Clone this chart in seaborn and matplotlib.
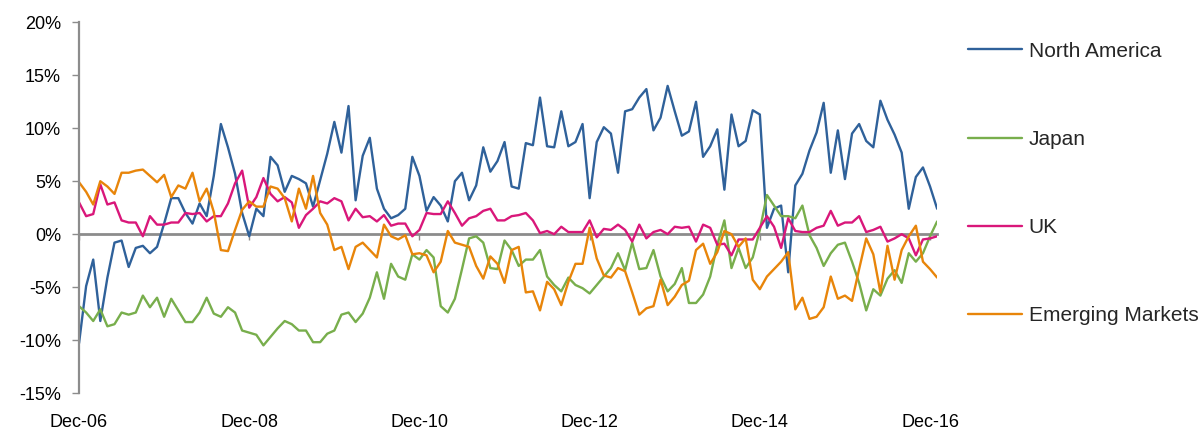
import numpy as np
import pandas as pd
import matplotlib
matplotlib.use("Agg")
import matplotlib.pyplot as plt
import seaborn as sns

# Monthly relative returns (%), Dec-06 to Jan-17
north_america = [
    -10.3, -4.9, -2.4, -8.2, -4.1, -0.8, -0.6, -3.1, -1.3, -1.1,
    -1.8, -1.2, 1.0, 3.4, 3.4, 2.0, 1.0, 2.9, 1.7, 5.5,
    10.4, 8.2, 5.7, 2.0, -0.2, 2.4, 1.7, 7.3, 6.5, 4.0,
    5.5, 5.2, 4.8, 2.6, 5.1, 7.6, 10.6, 7.7, 12.1, 3.2,
    7.4, 9.1, 4.3, 2.4, 1.5, 1.8, 2.4, 7.3, 5.5, 2.2,
    3.5, 2.7, 1.2, 5.0, 5.8, 3.2, 4.6, 8.2, 5.9, 6.9,
    8.7, 4.5, 4.3, 8.6, 8.4, 12.9, 8.3, 8.2, 11.6, 8.3,
    8.7, 10.4, 3.4, 8.7, 10.1, 9.5, 5.8, 11.6, 11.8, 12.9,
    13.7, 9.8, 11.0, 14.0, 11.6, 9.3, 9.7, 12.5, 7.3, 8.3,
    9.9, 4.2, 11.3, 8.3, 8.8, 11.7, 11.3, 0.6, 2.4, 2.7,
    -3.6, 4.6, 5.7, 7.9, 9.6, 12.4, 5.8, 9.8, 5.2, 9.5,
    10.4, 8.8, 8.2, 12.6, 10.8, 9.4, 7.7, 2.4, 5.4, 6.3,
    4.5, 2.4,
]
japan = [
    -6.8, -7.4, -8.2, -7.1, -8.7, -8.5, -7.4, -7.6, -7.4, -5.8,
    -6.9, -6.0, -7.8, -6.1, -7.2, -8.3, -8.3, -7.4, -6.0, -7.5,
    -7.8, -6.9, -7.4, -9.1, -9.3, -9.5, -10.5, -9.7, -8.9, -8.2,
    -8.5, -9.1, -9.1, -10.2, -10.2, -9.4, -9.1, -7.6, -7.4, -8.3,
    -7.5, -6.0, -3.6, -6.1, -2.8, -4.0, -4.3, -1.9, -2.4, -1.5,
    -2.2, -6.8, -7.4, -6.1, -3.3, -0.4, -0.2, -0.8, -3.2, -3.3,
    -0.6, -1.5, -3.0, -2.4, -2.4, -1.5, -4.0, -4.8, -5.4, -4.1,
    -4.8, -5.1, -5.6, -4.8, -4.0, -3.2, -1.8, -3.4, -0.8, -3.3,
    -3.2, -1.5, -4.0, -5.4, -4.7, -3.2, -6.5, -6.5, -5.7, -4.0,
    -1.0, 1.3, -3.2, -1.3, -3.2, -2.2, 0.4, 3.7, 2.7, 1.7,
    1.7, 1.5, 2.7, -0.1, -1.3, -3.0, -1.8, -1.0, -0.8, -2.6,
    -4.6, -7.2, -5.2, -5.8, -4.2, -3.4, -4.6, -1.8, -2.6, -1.8,
    -0.2, 1.2,
]
uk = [
    3.0, 1.7, 1.9, 4.7, 2.8, 3.0, 1.3, 1.1, 1.1, -0.2,
    1.7, 0.9, 0.9, 1.1, 1.1, 2.0, 1.9, 2.0, 1.2, 1.7,
    1.7, 2.9, 4.8, 6.0, 2.5, 3.5, 5.3, 3.8, 3.1, 3.5,
    3.0, 0.6, 1.8, 2.4, 3.1, 2.9, 3.4, 3.1, 1.3, 2.4,
    1.6, 1.7, 1.2, 1.8, 0.8, 1.0, 1.0, -0.2, 0.4, 2.0,
    1.9, 1.9, 3.1, 2.0, 0.8, 1.5, 1.7, 2.2, 2.4, 1.3,
    1.3, 1.7, 1.8, 2.0, 1.3, 0.1, 0.3, 0.0, 0.7, 0.2,
    0.2, 0.2, 1.3, -0.3, 0.5, 0.4, 0.9, 0.4, -0.7, 0.9,
    -0.4, 0.2, 0.4, 0.0, 0.7, 0.6, 0.7, -0.7, 0.9, 0.6,
    -1.0, -0.9, -2.0, -0.5, -0.5, -0.5, 0.6, 1.7, 0.7, -1.3,
    1.5, 0.3, 0.2, 0.2, 0.6, 0.8, 2.2, 0.8, 1.1, 1.1,
    1.7, 0.2, 0.4, 0.7, -0.7, -0.4, 0.0, -0.4, -2.0, -0.5,
    -0.4, -0.2,
]
emerging_markets = [
    4.9, 4.0, 2.8, 5.0, 4.5, 3.8, 5.8, 5.8, 6.0, 6.1,
    5.5, 4.9, 5.6, 3.5, 4.6, 4.3, 5.8, 3.1, 4.3, 2.1,
    -1.5, -1.6, 0.4, 2.3, 3.1, 2.6, 2.6, 4.5, 4.3, 3.4,
    1.2, 4.3, 2.4, 5.5, 2.0, 0.9, -1.5, -1.2, -3.3, -1.2,
    -0.8, -1.5, -2.2, 0.9, -0.2, -0.5, -0.1, -1.9, -1.8, -2.0,
    -3.6, -2.6, 0.3, -0.8, -1.0, -1.2, -3.0, -4.2, -2.1, -2.8,
    -4.6, -1.5, -1.2, -5.5, -5.4, -7.2, -4.5, -5.2, -6.7, -4.5,
    -2.8, -2.8, 0.6, -2.3, -3.9, -4.1, -3.2, -3.5, -5.5, -7.6,
    -7.0, -6.8, -4.3, -6.7, -5.9, -4.8, -4.4, -1.5, -0.9, -2.8,
    -1.7, 0.3, 0.0, -1.2, -0.4, -4.3, -5.2, -4.0, -3.3, -2.6,
    -1.7, -7.1, -6.0, -8.0, -7.8, -6.9, -4.0, -6.1, -5.8, -6.3,
    -3.3, -0.4, -1.9, -5.5, -1.1, -4.3, -1.5, -0.2, 0.8, -2.6,
    -3.3, -4.1,
]

series_names = ["North America", "Japan", "UK", "Emerging Markets"]
tick_labels = ["Dec-06", "Dec-08", "Dec-10", "Dec-12", "Dec-14", "Dec-16"]
tick_step = 24  # months between labelled ticks
y_ticks = [-15, -10, -5, 0, 5, 10, 15, 20]

palette = {
    "North America": "#2F619A",
    "Japan": "#78AE4C",
    "UK": "#D9177A",
    "Emerging Markets": "#E8850A",
}
axis_grey = "#8C8C8C"

months = np.arange(len(north_america))
wide = pd.DataFrame({
    "month": months,
    "North America": north_america,
    "Japan": japan,
    "UK": uk,
    "Emerging Markets": emerging_markets,
})
df = wide.melt(id_vars="month", var_name="series", value_name="value")

sns.set_theme(style="white")
plt.rcParams["font.family"] = ["Liberation Sans", "DejaVu Sans"]

fig = plt.figure(figsize=(12.03, 4.30), dpi=100)
ax = fig.add_axes([0.0657, 0.086, 0.7133, 0.862])

sns.lineplot(
    data=df, x="month", y="value", hue="series", hue_order=series_names,
    palette=palette, linewidth=1.7, estimator=None, sort=False,
    legend=False, ax=ax,
)

ymin, ymax = y_ticks[0], y_ticks[-1]
ax.set_xlim(months[0], months[-1])
ax.set_ylim(ymin, ymax)

# y axis: percent labels with outward grey ticks
ax.set_yticks(y_ticks)
ax.set_yticklabels([f"{v}%" for v in y_ticks])
ax.tick_params(axis="y", length=5, width=1, color=axis_grey, pad=8,
               labelsize=13, labelcolor="black", left=True)
ax.spines["left"].set_color(axis_grey)
ax.spines["left"].set_linewidth(1.6)
for side in ("top", "right", "bottom"):
    ax.spines[side].set_visible(False)

# category labels along the bottom of the plot
tick_pos = [months[0] + k * tick_step for k in range(len(tick_labels))]
ax.set_xticks(tick_pos)
ax.set_xticklabels(tick_labels)
ax.tick_params(axis="x", length=0, pad=15, labelsize=13, labelcolor="black")
ax.set_xlabel("")
ax.set_ylabel("")

# horizontal axis line crossing at 0%
zero_axis = ax.secondary_xaxis((0 - ymin) / (ymax - ymin))
zero_axis.set_xticks(tick_pos)
zero_axis.set_xticklabels([])
zero_axis.tick_params(axis="x", length=4, width=1, color=axis_grey, direction="out")
zero_axis.spines["bottom"].set_color(axis_grey)
zero_axis.spines["bottom"].set_linewidth(2)

handles = ax.get_lines()[:len(series_names)]
ax.legend(
    handles, series_names, loc="upper left",
    bbox_to_anchor=(0.805, 0.903), bbox_transform=fig.transFigure,
    frameon=False, fontsize=15, handlelength=2.55, handletextpad=0.34,
    labelspacing=3.32, borderpad=0, borderaxespad=0,
)

fig.savefig("out.png", dpi=100)
